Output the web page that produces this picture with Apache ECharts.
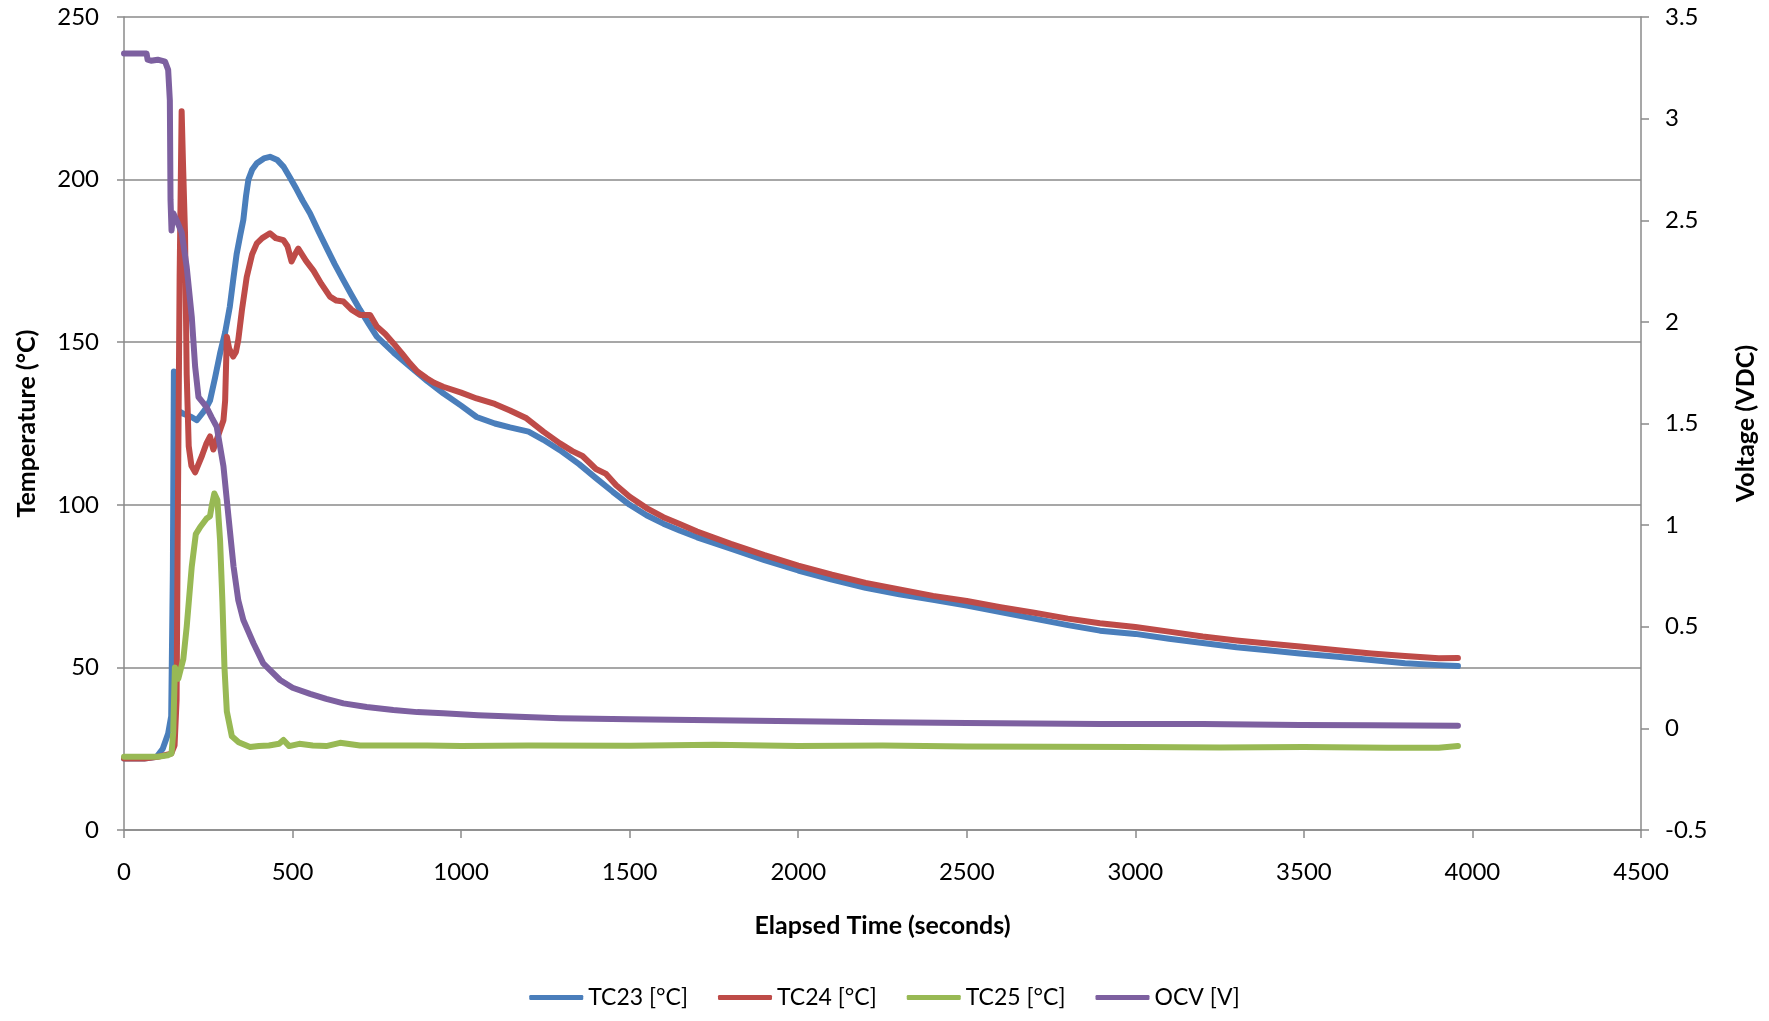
<!DOCTYPE html>
<html>
<head>
<meta charset="utf-8">
<title>Thermal runaway test – temperatures and OCV</title>
<script src="https://cdn.jsdelivr.net/npm/echarts@6/dist/echarts.min.js"></script>
<style>
  html, body { margin: 0; padding: 0; background: #ffffff; }
  #chart { width: 1769px; height: 1021px; }
</style>
</head>
<body>
<div id="chart"></div>
<script>
// Thermocouple readings [elapsed seconds, °C]
const tc23 = [
  [0,22],[60,22],[97,22.5],[115,25],[131,29.7],[140,35],[145,80],[148,141],[152,141],[158,129],
  [176,128],[200,127],[216,126],[235,128.5],[245,130],[255,132],[270,139],[285,146.6],[300,153],
  [314,161],[325,170],[334,177],[345,183],[354,187.6],[362,195],[369,200],[380,203],[394,205],
  [415,206.5],[433,207],[455,206],[473,204],[490,201],[512,197],[530,193.5],[552,189.6],[575,184.5],
  [601,179],[625,174],[651,169],[675,164.5],[700,160],[725,155.8],[750,151.7],[800,146.8],[848,142.5],
  [900,138],[947,134.3],[1000,130.5],[1046,127],[1100,125],[1145,123.8],[1200,122.5],[1244,120],
  [1293,116.8],[1350,112.5],[1400,108.2],[1450,104],[1500,100],[1550,96.8],[1600,94.2],[1650,92],
  [1700,90],[1800,86.5],[1900,83],[2000,79.8],[2100,77],[2200,74.5],[2300,72.5],[2400,70.8],[2500,69],
  [2600,67],[2700,65],[2800,63],[2895,61.3],[3000,60.3],[3100,58.8],[3200,57.5],[3300,56.2],
  [3400,55.2],[3488,54.3],[3600,53.3],[3700,52.3],[3800,51.3],[3900,50.7],[3957,50.4]
];

const tc24 = [
  [0,22],[60,22],[100,22.5],[140,23.5],[150,26],[156,40],[160,100],[165,170],[171,221],[175,205],
  [181,183.5],[186,140],[192,118],[200,112],[211,110],[231,115],[245,119],[255,121],[265,117],
  [275,120],[285,123],[295,126],[300,132],[305,151.7],[312,148],[324,145.6],[332,147],[339,150.7],
  [350,160],[364,170],[380,177],[394,180.4],[410,182],[433,183.5],[450,182],[473,181.4],[485,179.5],
  [497,174.8],[507,177],[517,178.8],[540,175],[562,172],[585,168],[611,164],[630,162.8],[651,162.5],
  [675,160],[700,158.4],[730,158.4],[750,154.8],[775,152.5],[799,149.7],[825,146.5],[848,143.5],
  [870,141],[898,138.9],[920,137.5],[947,136.3],[1000,134.5],[1046,132.7],[1100,131],[1145,129],
  [1194,126.6],[1244,122.5],[1293,118.9],[1330,116.5],[1360,115],[1400,111],[1430,109.5],[1460,106],
  [1500,102.5],[1550,99],[1600,96.2],[1650,94],[1700,91.8],[1800,88],[1900,84.5],[2000,81.3],
  [2100,78.5],[2200,76],[2300,74],[2400,72],[2500,70.4],[2600,68.5],[2700,66.8],[2800,65],
  [2895,63.6],[3000,62.4],[3100,61],[3200,59.5],[3300,58.3],[3400,57.3],[3488,56.4],[3600,55.3],
  [3700,54.3],[3800,53.5],[3900,52.8],[3957,52.9]
];

const tc25 = [
  [0,22.5],[100,22.5],[130,23],[141,23.5],[146,30],[151,50],[161,46.5],[176,52.6],[186,62.5],
  [201,81],[213,91],[225,93],[245,95.8],[255,96.5],[260,99.5],[268,103.5],[277,101.5],[285,89],
  [292,70],[298,50],[305,36.5],[320,28.8],[340,27],[374,25.5],[400,25.8],[430,26],[460,26.5],
  [473,27.7],[490,25.8],[520,26.5],[560,26],[600,25.8],[641,26.8],[700,26],[800,26],[900,26],
  [1000,25.8],[1200,26],[1500,25.9],[1750,26.2],[2000,25.8],[2250,26],[2500,25.7],[2750,25.6],
  [3000,25.5],[3250,25.4],[3500,25.5],[3750,25.3],[3900,25.3],[3957,25.8]
];

// Open-circuit voltage [elapsed seconds, V]
const ocv = [
  [0,3.32],[30,3.32],[67,3.32],[70,3.29],[80,3.285],[100,3.29],[122,3.28],[131,3.24],[136,3.09],
  [138,2.6],[141,2.45],[146,2.535],[156,2.5],[171,2.44],[186,2.27],[201,2.025],[211,1.78],[221,1.63],
  [245,1.58],[260,1.53],[275,1.484],[295,1.29],[310,1.04],[325,0.796],[339,0.63],[354,0.533],
  [384,0.419],[413,0.32],[463,0.238],[500,0.2],[552,0.17],[600,0.145],[651,0.123],[720,0.105],
  [799,0.09],[870,0.08],[947,0.074],[1050,0.065],[1150,0.058],[1293,0.05],[1500,0.045],[1750,0.04],
  [2000,0.035],[2250,0.03],[2500,0.027],[2895,0.0215],[3200,0.022],[3488,0.017],[3700,0.015],
  [3957,0.013]
];

const seriesNames = ['TC23 [°C]', 'TC24 [°C]', 'TC25 [°C]', 'OCV [V]'];
const seriesColors = ['#4a7ebb', '#be4b48', '#98b954', '#7d60a0'];

const gridGray = '#8a8a8a';
const labelFont = { fontFamily: 'Lato', fontSize: 24, color: '#000000' };
const titleFont = { fontFamily: 'Lato', fontSize: 25, fontWeight: 'bold', color: '#000000' };

function lineSeries(name, data, color, yAxisIndex) {
  return {
    name: name,
    type: 'line',
    data: data,
    yAxisIndex: yAxisIndex,
    showSymbol: false,
    symbol: 'none',
    smooth: false,
    animation: false,
    color: color,
    lineStyle: { width: 6, color: color, cap: 'round', join: 'round' },
    emphasis: { disabled: true }
  };
}

const chart = echarts.init(document.getElementById('chart'), null, { renderer: 'canvas' });
chart.setOption({
  backgroundColor: '#ffffff',
  animation: false,
  grid: { left: 124, right: 128, top: 17, bottom: 191, containLabel: false },
  legend: {
    data: seriesNames,
    bottom: 7,
    left: 'center',
    icon: 'roundRect',
    itemWidth: 54,
    itemHeight: 5,
    itemGap: 30,
    textStyle: { fontFamily: 'Lato', fontSize: 23, color: '#000000' }
  },
  xAxis: {
    type: 'value',
    min: 0, max: 4500, interval: 500,
    name: 'Elapsed Time (seconds)',
    nameLocation: 'middle',
    nameGap: 83,
    nameTextStyle: titleFont,
    axisLine: { show: true, onZero: false, lineStyle: { color: gridGray, width: 1.5 } },
    axisTick: { show: true, inside: false, length: 8, lineStyle: { color: gridGray, width: 1.5 } },
    axisLabel: Object.assign({ margin: 30, formatter: function (v) { return String(v); } }, labelFont),
    splitLine: { show: false }
  },
  yAxis: [
    {
      type: 'value',
      position: 'left',
      min: 0, max: 250, interval: 50,
      name: 'Temperature (°C)',
      nameLocation: 'middle',
      nameRotate: 90,
      nameGap: 85,
      nameTextStyle: titleFont,
      axisLine: { show: true, onZero: false, lineStyle: { color: gridGray, width: 1.5 } },
      axisTick: { show: true, inside: false, length: 7, lineStyle: { color: gridGray, width: 1.5 } },
      axisLabel: Object.assign({ margin: 25 }, labelFont),
      splitLine: { show: true, lineStyle: { color: gridGray, width: 1.5 } }
    },
    {
      type: 'value',
      position: 'right',
      min: -0.5, max: 3.5, interval: 0.5,
      name: 'Voltage (VDC)',
      nameLocation: 'middle',
      nameRotate: 90,
      nameGap: 92,
      nameTextStyle: titleFont,
      axisLine: { show: true, onZero: false, lineStyle: { color: gridGray, width: 1.5 } },
      axisTick: { show: true, inside: false, length: 8, lineStyle: { color: gridGray, width: 1.5 } },
      axisLabel: Object.assign({ margin: 24 }, labelFont),
      splitLine: { show: false }
    }
  ],
  series: [
    lineSeries(seriesNames[0], tc23, seriesColors[0], 0),
    lineSeries(seriesNames[1], tc24, seriesColors[1], 0),
    lineSeries(seriesNames[2], tc25, seriesColors[2], 0),
    lineSeries(seriesNames[3], ocv, seriesColors[3], 1)
  ]
});
</script>
</body>
</html>
